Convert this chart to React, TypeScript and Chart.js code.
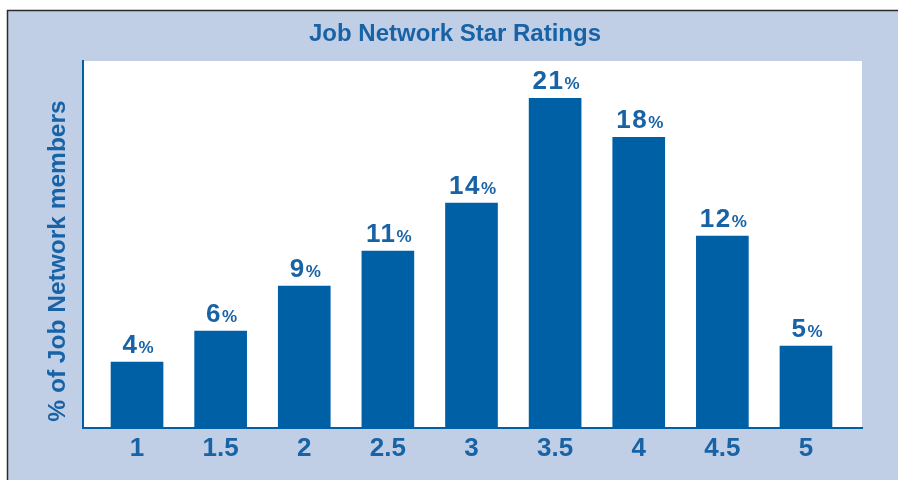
import React, { useEffect, useRef } from "react";
import { Chart, registerables } from "chart.js";

Chart.register(...registerables);

const TITLE = "Job Network Star Ratings";
const Y_TITLE = "% of Job Network members";
const RATINGS = [1, 1.5, 2, 2.5, 3, 3.5, 4, 4.5, 5];
const SHARE = [4.15, 6.1, 8.93, 11.13, 14.15, 20.75, 18.3, 12.08, 5.16];
const SHARE_LABELS = ["4", "6", "9", "11", "14", "21", "18", "12", "5"];
const TICK_LABELS = ["1", "1.5", "2", "2.5", "3", "3.5", "4", "4.5", "5"];

const BG = "#c1cfe6";
const BAR = "#0060a6";
const TEXT = "#1862a6";
const FONT = '"Liberation Sans", Arial, sans-serif';

const framePlugin = {
  id: "frame",
  beforeDraw(chart: any) {
    const { ctx, width, height, chartArea: a } = chart;
    ctx.save();
    ctx.fillStyle = "#ffffff";
    ctx.fillRect(0, 0, width, height);
    ctx.fillStyle = BG;
    ctx.fillRect(7, 10, width - 7, height - 10);
    ctx.strokeStyle = "#2a2a2a";
    ctx.lineWidth = 1.5;
    ctx.beginPath();
    ctx.moveTo(7.5, height);
    ctx.lineTo(7.5, 10.5);
    ctx.lineTo(width, 10.5);
    ctx.stroke();
    ctx.fillStyle = "#ffffff";
    ctx.fillRect(a.left, a.top, a.right - a.left, a.bottom - a.top);

    ctx.fillStyle = TEXT;
    ctx.font = `bold 24px ${FONT}`;
    ctx.textAlign = "center";
    ctx.textBaseline = "alphabetic";
    ctx.fillText(TITLE, 455, 41);

    ctx.font = `bold 24.5px ${FONT}`;
    ctx.translate(65, 261);
    ctx.rotate(-Math.PI / 2);
    ctx.fillText(Y_TITLE, 0, 0);
    ctx.restore();
  },
  afterDatasetsDraw(chart: any) {
    const { ctx } = chart;
    const meta = chart.getDatasetMeta(0);
    ctx.save();
    ctx.fillStyle = TEXT;
    ctx.textAlign = "left";
    ctx.textBaseline = "alphabetic";
    meta.data.forEach((el: any, i: number) => {
      const num = SHARE_LABELS[i];
      ctx.font = `bold 26px ${FONT}`;
      (ctx as any).letterSpacing = "1.5px";
      const wn = ctx.measureText(num).width;
      ctx.font = `bold 17px ${FONT}`;
      (ctx as any).letterSpacing = "0px";
      const wp = ctx.measureText("%").width;
      const start = el.x - (wn + wp) / 2 + 1;
      const base = el.y - 9;
      ctx.font = `bold 26px ${FONT}`;
      (ctx as any).letterSpacing = "1.5px";
      ctx.fillText(num, start, base);
      ctx.font = `bold 17px ${FONT}`;
      (ctx as any).letterSpacing = "0px";
      ctx.fillText("%", start + wn, base);
    });
    ctx.restore();
  },
};

export default function App() {
  const ref = useRef<HTMLCanvasElement | null>(null);
  useEffect(() => {
    if (!ref.current) return;
    const chart = new Chart(ref.current, {
      type: "bar",
      data: {
        datasets: [
          {
            data: RATINGS.map((r, i) => ({ x: r, y: SHARE[i] })),
            backgroundColor: BAR,
            borderWidth: 0,
            barThickness: 52,
          },
        ],
      },
      options: {
        animation: false,
        responsive: false,
        devicePixelRatio: 1,
        layout: { padding: { left: 0, top: 61, right: 36, bottom: 0 } },
        plugins: {
          legend: { display: false },
          title: { display: false },
          tooltip: { enabled: false },
        },
        scales: {
          x: {
            type: "linear",
            offset: false,
            min: 0.677,
            max: 5.335,
            grid: { display: false, drawTicks: false, offset: false },
            border: { display: true, color: BAR, width: 2 },
            afterBuildTicks: (s: any) => {
              s.ticks = RATINGS.map((v) => ({ value: v }));
            },
            afterFit: (s: any) => {
              s.height = 52;
            },
            ticks: {
              autoSkip: false,
              maxRotation: 0,
              padding: 5,
              color: TEXT,
              font: { family: FONT, size: 26, weight: "bold" },
              callback: (v: any) => TICK_LABELS[RATINGS.indexOf(Number(v))] ?? "",
            },
          },
          y: {
            min: 0,
            max: 23.1,
            grid: { display: false, drawTicks: false },
            border: { display: true, color: BAR, width: 2 },
            ticks: { display: false },
            afterFit: (s: any) => {
              s.width = 83;
            },
          },
        },
      },
      plugins: [framePlugin],
    } as any);
    return () => chart.destroy();
  }, []);
  return (
    <div style={{ position: "absolute", left: 0, top: 0, width: 898, height: 480 }}>
      <canvas ref={ref} width={898} height={480} style={{ display: "block" }} />
    </div>
  );
}
